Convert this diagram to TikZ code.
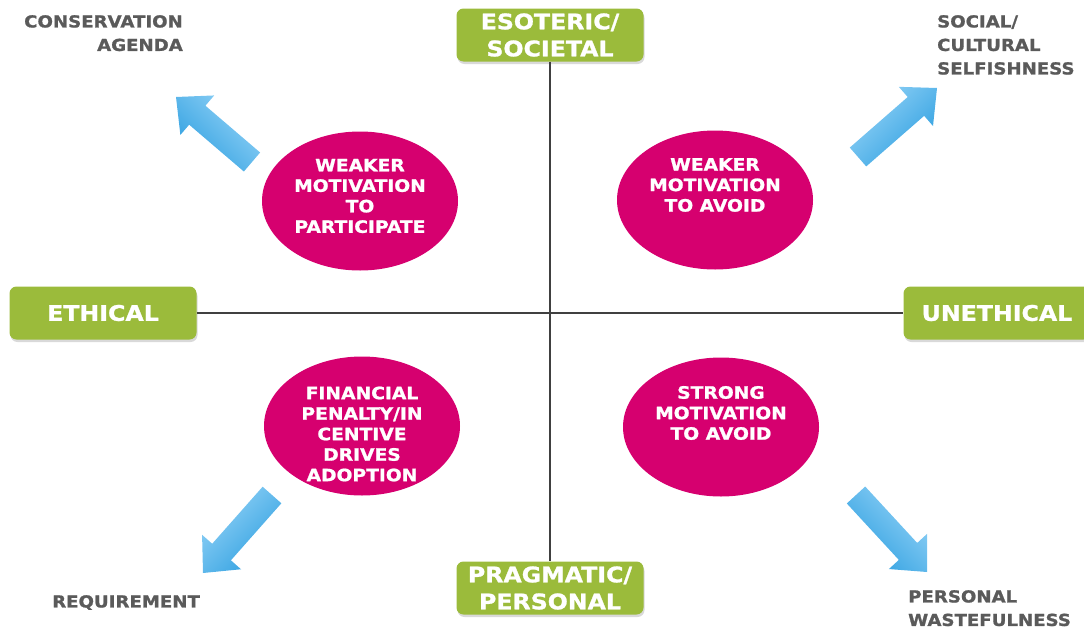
\documentclass[tikz,border=0pt]{standalone}
\usepackage{fontspec}
\setmainfont{DejaVu Sans}[FakeStretch=1.1, BoldFeatures={FakeBold=1.2}]
\usetikzlibrary{shapes.geometric,shadows,calc}
\definecolor{quadgreen}{HTML}{9BBB3B}
\definecolor{ovalpink}{HTML}{D6006F}
\definecolor{labelgray}{HTML}{5A5A5A}
\definecolor{axisgray}{HTML}{404040}
\definecolor{arrowlight}{HTML}{94D3F7}
\definecolor{arrowdark}{HTML}{2E9FE0}
\newcommand\quadarrow[3]{%
  \coordinate (#1H) at ($(#2)!28pt!(#1)$);
  \shade[#3] ($(#1)!12.5pt!90:(#2)$) -- ($(#1H)!12.5pt!90:(#2)$) -- ($(#1H)!26pt!90:(#2)$) -- (#2)
    -- ($(#1H)!26pt!-90:(#2)$) -- ($(#1H)!12.5pt!-90:(#2)$) -- ($(#1)!12.5pt!-90:(#2)$) -- cycle;}
\tikzset{
  axisbox/.style={fill=quadgreen, rounded corners=7pt, minimum width=187pt, minimum height=53pt,
    text=white, font=\fontsize{21.5}{27}\selectfont\bfseries, align=center, inner sep=0pt,
    drop shadow={opacity=0.3, shadow xshift=1pt, shadow yshift=-2.5pt}},
  oval/.style={ellipse, fill=ovalpink, minimum width=196pt, minimum height=139pt, inner sep=0pt},
  ovaltext/.style={text=white, font=\fontsize{17}{20.5}\selectfont\bfseries, align=center, inner sep=0pt},
  cornerlabel/.style={text=labelgray, font=\fontsize{16.5}{23.5}\selectfont\bfseries, inner sep=0pt},
  axisline/.style={draw=axisgray, line width=1.3pt}
}
\begin{document}
\begin{tikzpicture}[x=1pt,y=-1pt]
\useasboundingbox (0,0) rectangle (1084,632);
% axis boxes
\node[axisbox] (top) at (550,35) {ESOTERIC/\\SOCIETAL};
\node[axisbox] (bottom) at (550,588) {PRAGMATIC/\\PERSONAL};
\node[axisbox] (ethical) at (103,313) {ETHICAL};
\node[axisbox] (unethical) at (997,313) {UNETHICAL};
% axes
\draw[axisline] (top.south) -- (bottom.north);
\draw[axisline] (ethical.east) -- (unethical.west);
% ovals
\node[oval] (tl) at (360,201) {};
\node[oval] (tr) at (715,200) {};
\node[oval] (bl) at (362,426) {};
\node[oval] (br) at (721,427) {};
\node[ovaltext] (tltext) at (360,196) {WEAKER\\MOTIVATION\\TO\\PARTICIPATE};
\node[ovaltext] (trtext) at (715,185) {WEAKER\\MOTIVATION\\TO AVOID};
\node[ovaltext] (bltext) at (362,434) {FINANCIAL\\PENALTY/IN\\CENTIVE\\DRIVES\\ADOPTION};
\node[ovaltext] (brtext) at (721,413) {STRONG\\MOTIVATION\\TO AVOID};
% corner labels
\node[cornerlabel, anchor=north east, align=right] (conslabel) at (183,15) {CONSERVATION\\AGENDA};
\node[cornerlabel, anchor=north west, align=left] (sociallabel) at (937,15) {SOCIAL/\\CULTURAL\\SELFISHNESS};
\node[cornerlabel, anchor=north west, align=left] (reqlabel) at (52,595) {REQUIREMENT};
\node[cornerlabel, anchor=north west, align=left] (perslabel) at (908,590) {PERSONAL\\WASTEFULNESS};
% arrows
\coordinate (tlA) at (252,162); \coordinate (tlB) at (176,97);
\coordinate (trA) at (858,157); \coordinate (trB) at (937,88);
\coordinate (blA) at (272,495); \coordinate (blB) at (203,573);
\coordinate (brA) at (856,495); \coordinate (brB) at (927,572);
\quadarrow{tlA}{tlB}{left color=arrowlight,right color=arrowdark,shading angle=-45}
\quadarrow{trA}{trB}{left color=arrowlight,right color=arrowdark,shading angle=45}
\quadarrow{blA}{blB}{left color=arrowlight,right color=arrowdark,shading angle=45}
\quadarrow{brA}{brB}{left color=arrowlight,right color=arrowdark,shading angle=-45}
\end{tikzpicture}
\end{document}
